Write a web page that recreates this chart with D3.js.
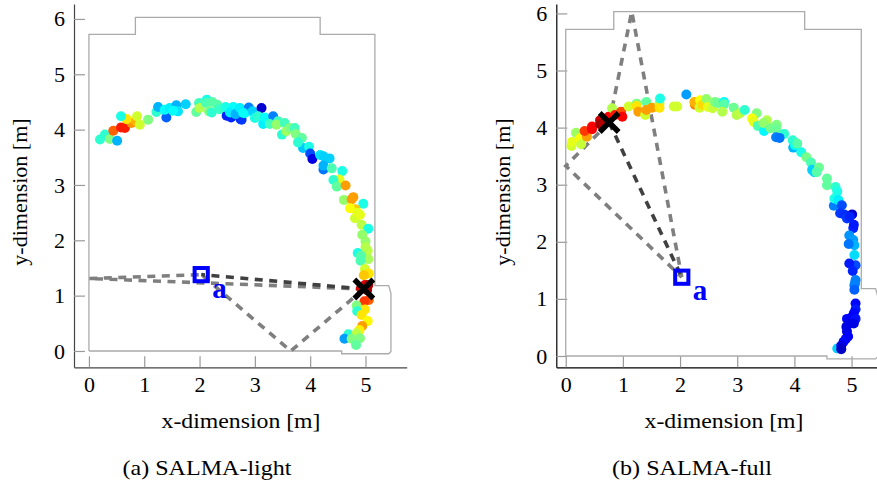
<!DOCTYPE html>
<html>
<head>
<meta charset="utf-8">
<script src="https://cdnjs.cloudflare.com/ajax/libs/d3/7.8.5/d3.min.js"></script>
<style>
body { margin: 0; background: #fff; }
svg { display: block; }
text { font-family: "Liberation Serif", serif; fill: #000; }
.tick text { font-size: 22px; }
.axis_label { font-size: 22px; }
.caption { font-size: 22px; }
</style>
</head>
<body>
<script>
// data, metres
var x_ticks = [0, 1, 2, 3, 4, 5];
var y_ticks = [0, 1, 2, 3, 4, 5, 6];

var room_x = [0, 0, 0.84, 0.84, 4.18, 4.18, 5.17, 5.17, 5.42, 5.46, 5.46, 5.42, 4.57, 4.57, 0];
var room_y = [0, 5.72, 5.72, 6.03, 6.03, 5.72, 5.72, 1.18, 1.18, 1.04, -0.01, -0.05, -0.05, 0, 0];

// [x, y, colour value 0..1]
var points_light = [
[.2,3.82,.42],[.29,3.91,.42],[.38,3.83,.5],[.51,3.8,.3],[.44,3.98,.78],[.58,4.04,.85],[.65,4.03,.85],[.77,4.12,.73],
[.85,4.15,.7],[.68,4.19,.65],[.58,4.24,.4],[.87,4.24,.58],[.92,4.09,.58],[1.07,4.18,.5],[1.22,4.32,.42],[1.25,4.41,.3],
[1.4,4.22,.22],[1.37,4.36,.38],[1.46,4.39,.36],[1.58,4.44,.3],[1.61,4.33,.35],[1.52,4.34,.38],[1.75,4.46,.33],[1.94,4.32,.47],[1.99,4.48,.44],
[2,4.39,.55],[2.13,4.54,.4],[2.12,4.48,.45],[2.23,4.5,.46],[2.17,4.33,.5],[2.22,4.31,.42],[2.32,4.45,.46],[2.36,4.37,.43],
[2.49,4.25,.16],[2.57,4.22,.16],[2.74,4.19,.17],[2.76,4.18,.18],[2.47,4.41,.4],[2.61,4.41,.38],[2.55,4.31,.36],[2.65,4.28,.3],
[2.73,4.39,.36],[2.82,4.3,.38],[2.89,4.4,.25],[2.96,4.33,.33],[3.12,4.39,.08],[2.79,4.3,.38],[3,4.21,.4],[3.06,4.24,.42],
[3.15,4.1,.36],[3.18,4.22,.38],[3.33,4.24,.25],[3.27,4.1,.44],[3.42,4.15,.44],[3.39,4.09,.52],[3.54,4.12,.44],[3.49,3.91,.42],
[3.57,3.97,.53],[3.63,4.03,.5],[3.72,4.03,.44],[3.74,3.92,.5],[3.85,3.85,.47],[3.87,3.67,.32],[3.78,3.77,.42],[3.98,3.69,.4],
[4,3.57,.2],[4.04,3.47,.1],[4.18,3.54,.35],[4.24,3.52,.33],[4.35,3.48,.33],[4.24,3.28,.24],[4.24,3.35,.3],[4.39,3.3,.45],
[4.58,3.25,.4],[4.53,3.1,.6],[4.42,3.09,.42],[4.48,2.97,.47],[4.64,2.99,.72],[4.61,2.73,.52],[4.78,2.78,.72],[4.75,2.74,.72],
[4.96,2.66,.4],[4.82,2.56,.68],[4.72,2.58,.62],[4.81,2.4,.58],[4.9,2.46,.6],[4.86,2.5,.6],[4.93,2.28,.56],[5.05,2.21,.4],[4.94,2.1,.52],
[5,1.98,.52],[5.04,1.81,.56],[5,1.88,.55],[5.05,1.66,.54],[4.86,1.77,.4],[4.92,1.72,.46],[4.91,1.63,.45],[4.99,1.48,.58],[5.06,1.4,.65],
[4.97,1.37,.68],[4.99,1.19,.9],[5.05,1.19,.95],[4.92,1.13,.9],[5.03,1.1,.95],[5.06,.92,.78],[4.98,.9,.82],[4.84,.82,.5],
[4.99,.75,.65],[4.85,.72,.42],[4.93,.65,.65],[5.04,.54,.63],[4.94,.45,.72],[4.89,.38,.64],[4.69,.3,.42],[4.62,.22,.28],
[4.84,.32,.56],[4.75,.22,.5],[4.9,.23,.5],[4.83,.11,.47]
];

var points_full = [
[.1,3.68,.58],[.11,3.75,.6],[.18,3.91,.53],[.25,3.81,.62],[.27,3.71,.57],[.37,3.84,.72],[.33,3.94,.82],[.46,4.02,.87],
[.46,3.97,.88],[.6,4.13,.92],[.6,4.06,.97],[.75,4.19,.88],[.68,4.08,.95],[.81,4.34,.55],[.86,4.22,.85],[.97,4.28,.8],
[.99,4.19,.88],[1.1,4.37,.58],[1.24,4.42,.5],[1.24,4.38,.65],[1.27,4.28,.72],[1.39,4.22,.58],[1.41,4.45,.47],[1.41,4.31,.72],
[1.51,4.35,.72],[1.64,4.42,.55],[1.64,4.35,.65],[1.65,4.51,.4],[1.89,4.37,.58],[1.95,4.37,.58],[2.11,4.58,.28],[2.26,4.4,.75],
[2.25,4.45,.7],[2.35,4.48,.62],[2.34,4.35,.58],[2.39,4.4,.66],[2.46,4.5,.52],[2.49,4.36,.6],[2.57,4.34,.57],[2.61,4.45,.5],
[2.66,4.43,.48],[2.77,4.45,.38],[2.77,4.41,.46],[2.74,4.28,.55],[2.94,4.35,.48],[2.99,4.22,.55],[3.05,4.25,.56],[3.13,4.31,.42],
[3.34,4.25,.5],[3.26,4.16,.62],[3.29,4.1,.6],[3.36,4.03,.45],[3.47,3.94,.37],[3.52,4.13,.55],[3.46,4.08,.52],[3.58,3.99,.49],
[3.69,4.05,.5],[3.68,3.98,.48],[3.82,3.89,.42],[3.68,3.83,.25],[3.74,3.82,.24],[3.98,3.65,.3],[3.97,3.78,.42],[4.01,3.69,.38],
[4.05,3.72,.46],[4.12,3.57,.4],[4.21,3.48,.49],[4.29,3.39,.45],[4.35,3.22,.33],[4.31,3.26,.33],[4.43,3.3,.48],[4.39,3.22,.46],
[4.57,3.11,.47],[4.57,2.99,.47],[4.72,2.96,.42],[4.75,2.88,.4],[4.69,2.63,.25],[4.7,2.76,.4],[4.77,2.73,.36],[4.83,2.64,.2],
[4.8,2.5,.18],[4.87,2.48,.17],[5.01,2.48,.08],[4.92,2.41,.18],[4.97,2.44,.16],[5.03,2.24,.16],[5.04,2.3,.15],[4.96,2.11,.27],[5.03,2.03,.28],[5.05,1.94,.3],
[4.95,1.96,.24],[5.05,1.77,.34],[5.07,1.59,.2],[4.96,1.62,.15],[5.02,1.49,.16],[5.07,1.33,.25],[5.06,1.28,.25],[5.05,1.24,.25],[5.05,1.16,.22],
[5.07,.92,.13],[5.07,.82,.15],[5.04,.75,.13],[4.92,.65,.13],[5,.68,.12],[5.07,.65,.14],[5.04,.57,.1],[4.95,.56,.1],[4.91,.51,.1],[4.92,.43,.1],
[4.94,.34,.12],[4.9,.3,.12],[4.86,.25,.13],[4.75,.13,.33],[4.82,.18,.1],[4.82,.12,.07]
];

// anchor, estimate and reflection points of the signal paths
var anchor = [2.03, 1.38];
var estimate_light = [4.97, 1.12];
var reflections_light = [[0, 1.31], [3.65, 0]];
var estimate_full = [0.76, 4.09];
var reflections_full = [[1.155, 6.03], [0, 3.33]];

var jet_stops = [0, .125, .375, .625, .875, 1];
var jet_colors = ["#00007f", "#0000ff", "#00ffff", "#ffff00", "#ff0000", "#7f0000"];

var svg_w = 877;
var svg_h = 484;

var svg = d3.select("body").append("svg")
	.attr("width", svg_w)
	.attr("height", svg_h);

var jet = d3.scaleLinear().domain(jet_stops).range(jet_colors);

function drawPanel(p) {
	var x = d3.scaleLinear().domain(p.x_dom).range(p.x_range);
	var y = d3.scaleLinear().domain(p.y_dom).range(p.y_range);
	var g = svg.append("g");

	// axes
	var xg = g.append("g")
		.attr("transform", "translate(0," + p.y_range[0] + ")")
		.call(d3.axisBottom(x).tickValues(x_ticks).tickFormat(d3.format("d")).tickSize(-11).tickSizeOuter(0).tickPadding(9));
	var yg = g.append("g")
		.attr("transform", "translate(" + p.x_range[0] + ",0)")
		.call(d3.axisLeft(y).tickValues(y_ticks).tickFormat(d3.format("d")).tickSize(-11).tickSizeOuter(0).tickPadding(9));
	xg.selectAll(".tick line").attr("stroke", "#9a9a9a").attr("stroke-width", 1.2);
	yg.selectAll(".tick line").attr("stroke", "#9a9a9a").attr("stroke-width", 1.2);
	xg.select(".domain").attr("stroke", p.axis_color).attr("stroke-width", 1.2);
	yg.select(".domain").attr("stroke", p.axis_color).attr("stroke-width", 1.2);

	// room outline
	var line = d3.line().x(function(d) { return x(d[0]); }).y(function(d) { return y(d[1]); });
	g.append("path")
		.attr("d", line(d3.zip(room_x, room_y)))
		.attr("fill", "none")
		.attr("stroke", "#ababab")
		.attr("stroke-width", 1.3);

	// reflected paths go under the dots, the direct one too
	p.reflections.forEach(function(r) {
		g.append("path")
			.attr("d", line([p.estimate, r, anchor]))
			.attr("fill", "none")
			.attr("stroke", "#7f7f7f")
			.attr("stroke-width", 3.6)
			.attr("stroke-dasharray", "8,6.5");
	});
	g.append("path")
		.attr("d", line([p.estimate, anchor]))
		.attr("fill", "none")
		.attr("stroke", "#404040")
		.attr("stroke-width", 3.6)
		.attr("stroke-dasharray", "8,6.5");

	g.selectAll("circle")
		.data(p.points)
		.enter()
		.append("circle")
		.attr("r", 5)
		.attr("cx", function(d) { return x(d[0]); })
		.attr("cy", function(d) { return y(d[1]); })
		.attr("fill", function(d) { return jet(d[2]); });

	// anchor square and label
	g.append("rect")
		.attr("x", x(anchor[0]) - 6.6)
		.attr("y", y(anchor[1]) - 6.6)
		.attr("width", 13.2)
		.attr("height", 13.2)
		.attr("fill", "none")
		.attr("stroke", "#0000ff")
		.attr("stroke-width", 4);
	g.append("text")
		.attr("x", x(anchor[0]) + 11)
		.attr("y", y(anchor[1]) + 23)
		.style("font-size", "29px")
		.style("font-weight", "bold")
		.style("fill", "#0000ff")
		.text("a");

	// estimate cross
	g.append("path")
		.attr("transform", "translate(" + x(p.estimate[0]) + "," + y(p.estimate[1]) + ")")
		.attr("d", "M-9.5,-9.5L9.5,9.5M-9.5,9.5L9.5,-9.5")
		.attr("stroke", "#000")
		.attr("stroke-width", 5.4)
		.attr("fill", "none");

	// labels, stretched a bit because the reference is wider than tall
	g.append("text")
		.attr("class", "axis_label")
		.attr("x", p.xlabel_x)
		.attr("y", 428)
		.attr("text-anchor", "middle")
		.attr("textLength", 159)
		.attr("lengthAdjust", "spacingAndGlyphs")
		.text("x-dimension [m]");
	g.append("text")
		.attr("class", "axis_label")
		.attr("transform", "translate(" + p.ylabel_x + "," + p.ylabel_y + ") rotate(-90)")
		.attr("text-anchor", "middle")
		.text("y-dimension [m]");
	g.append("text")
		.attr("class", "caption")
		.attr("x", p.caption_x)
		.attr("y", 475)
		.attr("text-anchor", "middle")
		.attr("textLength", p.caption_w)
		.attr("lengthAdjust", "spacingAndGlyphs")
		.text(p.caption);
}

drawPanel({
	x_dom: [-0.27, 5.745], x_range: [74, 406.7],
	y_dom: [-0.295, 6.27], y_range: [367.3, 4],
	axis_color: "#444",
	points: points_light,
	estimate: estimate_light,
	reflections: reflections_light,
	xlabel_x: 241, ylabel_x: 27, ylabel_y: 192,
	caption_x: 207, caption_w: 169, caption: "(a) SALMA-light"
});

drawPanel({
	x_dom: [-0.165, 5.62], x_range: [556.3, 887],
	y_dom: [-0.198, 6.165], y_range: [367.3, 4],
	axis_color: "#000",
	points: points_full,
	estimate: estimate_full,
	reflections: reflections_full,
	xlabel_x: 724, ylabel_x: 510, ylabel_y: 192,
	caption_x: 692, caption_w: 160, caption: "(b) SALMA-full"
});
</script>
</body>
</html>
